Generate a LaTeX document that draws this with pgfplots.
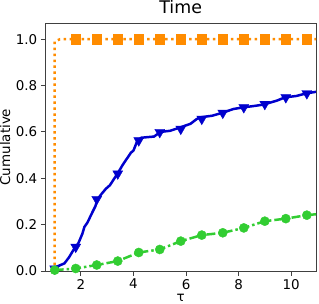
\documentclass[border=0pt]{standalone}
\usepackage{pgfplots}
\pgfplotsset{compat=1.18}
\usepackage{fontspec}
\setmainfont{DejaVu Sans}
\definecolor{cblue}{HTML}{0000CD}
\definecolor{cgreen}{HTML}{32CD32}
\definecolor{corange}{HTML}{FF8C00}
\begin{document}
\begin{tikzpicture}
\begin{axis}[
 scale only axis, width=272pt, height=249pt,
 xmin=0.64, xmax=10.95, ymin=0, ymax=1.069,
 xtick={2,4,6,8,10}, ytick={0,0.2,0.4,0.6,0.8,1.0},
 yticklabel style={/pgf/number format/.cd, fixed, fixed zerofill, precision=1},
 /pgf/number format/assume math mode=true,
 tick label style={font=\fontsize{13.5}{16}\selectfont},
 tick align=outside, tick pos=left, major tick length=4.5pt,
 axis line style={black!75, line width=1pt},
 every tick/.style={black!75, line width=1pt},
 title={Time}, title style={font=\fontsize{17.5}{20}\selectfont, at={(0.5,1)}, anchor=base, inner sep=0pt, yshift=4pt},
 xlabel={τ}, ylabel={Cumulative},
 label style={font=\fontsize{13.5}{16}\selectfont},
 xlabel style={inner sep=0pt, yshift=-1pt},
 ylabel style={inner sep=0pt, yshift=2pt},
 clip=true,
]
\addplot[corange, line width=2.5pt, dash pattern=on 2.5pt off 3.5pt] coordinates {(1,0) (1,0.99) (1.2,1.0) (10.95,1.0)};
\addplot[corange, only marks, mark=square*, mark size=4.6pt] coordinates {(1.8,1) (2.6,1) (3.4,1) (4.2,1) (5.0,1) (5.8,1) (6.6,1) (7.4,1) (8.2,1) (9.0,1) (9.8,1) (10.6,1)};
\addplot[cblue, line width=2.5pt] coordinates {
(1.0,0.01) (1.1,0.02) (1.37,0.033) (1.55,0.06) (1.75,0.098) (1.9,0.12) (2.05,0.16) (2.13,0.19) (2.25,0.21) (2.44,0.255) (2.55,0.28) (2.63,0.31) (2.8,0.335) (2.95,0.355) (3.1,0.37) (3.39,0.42) (3.6,0.46) (3.9,0.51) (4.0,0.52) (4.15,0.563) (4.3,0.575) (4.78,0.58) (5.03,0.60) (5.4,0.605) (5.79,0.62) (6.17,0.635) (6.4,0.655) (6.55,0.663) (7.0,0.67) (7.37,0.682) (7.81,0.699) (8.19,0.706) (8.6,0.712) (8.95,0.718) (9.46,0.735) (9.77,0.749) (10.2,0.755) (10.57,0.766) (10.95,0.773)};
\addplot[cblue, only marks, mark=triangle*, mark size=5.8pt, mark options={rotate=180}] coordinates {(1.0,0.01) (1.8,0.104) (2.6,0.31) (3.4,0.42) (4.2,0.563) (5.0,0.599) (5.8,0.613) (6.6,0.656) (7.4,0.682) (8.2,0.706) (9.0,0.72) (9.8,0.749) (10.6,0.766)};
\addplot[cgreen, line width=2.5pt, dash pattern=on 9pt off 3pt on 2.5pt off 3pt] coordinates {(1.0,0.004) (1.8,0.011) (2.6,0.026) (3.4,0.043) (4.2,0.08) (5.0,0.093) (5.8,0.129) (6.6,0.155) (7.4,0.165) (8.2,0.186) (9.0,0.215) (9.8,0.226) (10.6,0.241) (10.95,0.245)};
\addplot[cgreen, only marks, mark=*, mark size=4.6pt] coordinates {(1.0,0.004) (1.8,0.011) (2.6,0.026) (3.4,0.043) (4.2,0.08) (5.0,0.093) (5.8,0.129) (6.6,0.155) (7.4,0.165) (8.2,0.186) (9.0,0.215) (9.8,0.226) (10.6,0.241)};
\end{axis}
\path ([shift={(-44pt,-33pt)}]current axis.south west) rectangle ([shift={(3pt,17pt)}]current axis.north east);
\end{tikzpicture}
\end{document}
